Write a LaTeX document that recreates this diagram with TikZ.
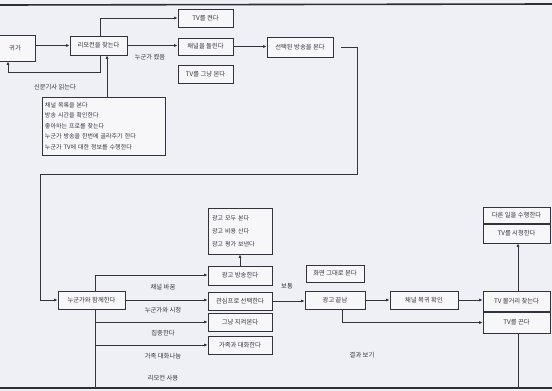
\documentclass[tikz,border=0pt]{standalone}
\usepackage{fontspec}
\newfontfamily\kr{Noto Sans CJK KR}
\usetikzlibrary{arrows.meta}
\definecolor{bg}{HTML}{EEF0F6}
\definecolor{ln}{HTML}{33333D}
\definecolor{bx}{HTML}{F7F7FA}
\begin{document}
\begin{tikzpicture}[x=1pt,y=-1pt,
  box/.style={draw=ln, line width=0.7pt, fill=bx, inner sep=0pt, font=\kr\fontsize{6.3}{7.5}\selectfont, text=ln},
  lab/.style={inner sep=0pt, font=\kr\fontsize{6.3}{7.5}\selectfont, text=ln},
  con/.style={draw=ln, line width=0.7pt, -{Latex[length=3.5pt,width=3pt]}},
  plain/.style={draw=ln, line width=0.7pt},
  edge/.style={draw=ln!90!black, line width=1.6pt}]
\fill[bg] (0,0) rectangle (552,391);
\useasboundingbox (0,0) rectangle (552,391);
% page edge lines
\coordinate (t0) at (0,5); \coordinate (t1) at (552,4);
\coordinate (u0) at (0,388); \coordinate (u1) at (552,388);
\draw[edge] (t0) -- (t1);
\draw[edge] (u0) -- (u1);
% bus lines in the lower part (drawn first)
\coordinate (b0) at (95,275);
\coordinate (b1) at (95,388);
\coordinate (b2) at (95,322);
\coordinate (b3) at (95,345);
\draw[plain] (b0) -- (b1);
% upper nodes
\node[box, minimum width=40pt, minimum height=26pt] (start) at (15,48) {귀가};
\node[box, minimum width=57pt, minimum height=19pt] (remote) at (98.5,45.5) {리모컨을 찾는다};
\node[box, minimum width=55pt, minimum height=18pt] (tvon) at (205.5,18) {TV를 켠다};
\node[box, minimum width=55pt, minimum height=17pt] (channel) at (205.5,46.5) {채널을 돌린다};
\node[box, minimum width=55pt, minimum height=18pt] (justtv) at (205.5,74) {TV를 그냥 본다};
\node[box, minimum width=66pt, minimum height=20pt] (selected) at (300,47) {선택된 방송을 본다};
\node[box, minimum width=123pt, minimum height=58pt, inner xsep=3pt, text width=117pt, align=left, font=\kr\fontsize{6}{10.5}\selectfont] (list) at (103.5,126) {채널 목록을 본다\\방송 시간을 확인한다\\좋아하는 프로를 찾는다\\누군가 방송을 한번에 골라주기 한다\\누군가 TV에 대한 정보를 수행한다};
\node[lab] (l1) at (150,57) {누군가 켰음};
\node[lab] (l2) at (55,87) {신문기사 읽는다};
% lower nodes
\node[box, minimum width=67pt, minimum height=18pt] (together) at (91.5,300) {누군가와 함께한다};
\node[box, minimum width=64pt, minimum height=19pt] (ad) at (240,275.5) {광고 방송한다};
\node[box, minimum width=64pt, minimum height=18pt] (interest) at (240,301) {관심프로 선택한다};
\node[box, minimum width=64pt, minimum height=18pt] (just) at (240,322) {그냥 지켜본다};
\node[box, minimum width=64pt, minimum height=18pt] (family) at (240,345) {가족과 대화한다};
\node[box, minimum width=64pt, minimum height=46pt, inner xsep=4pt, text width=56pt, align=left, font=\kr\fontsize{6}{13}\selectfont] (list2) at (240,231) {광고 모두 본다\\광고 비용 산다\\광고 평가 보낸다};
\node[box, minimum width=58pt, minimum height=17pt] (screen) at (335,273.5) {화면 그대로 본다};
\node[box, minimum width=60pt, minimum height=18pt] (adend) at (335,300) {광고 끝남};
\node[box, minimum width=68pt, minimum height=18pt] (chk) at (424,300) {채널 복귀 확인};
\node[box, minimum width=67pt, minimum height=20pt] (find) at (516.5,301) {TV 볼거리 찾는다};
\node[box, minimum width=67pt, minimum height=21pt] (off) at (516.5,322.5) {TV를 끈다};
\node[box, minimum width=67pt, minimum height=16pt] (other) at (516.5,215) {다른 일을 수행한다};
\node[box, minimum width=67pt, minimum height=19pt] (watch) at (516.5,233.5) {TV를 시청한다};
\node[lab] (n1) at (163,287) {채널 바꿈};
\node[lab] (n2) at (163,310) {누군가와 시청};
\node[lab] (n3) at (163,333) {집중한다};
\node[lab] (n4) at (163,356) {가족 대화나눔};
\node[lab] (n5) at (163,378) {리모컨 사용};
\node[lab] (n6) at (287,286) {보통};
\node[lab] (n7) at (362,355) {결과 보기};
% upper connectors
\draw[con] (start.east |- remote) -- (remote.west);
\draw[con] ([xshift=1.5pt]remote.north) |- (tvon.west);
\draw[con] (remote.east) -- (remote.east -| channel.west);
\coordinate (lc) at (8,72);
\draw[con] ([xshift=1.5pt]remote.south) |- (lc) -- (lc |- start.south);
\draw[con] ([xshift=3.5pt]list.north) -- ([xshift=3.5pt]list.north |- remote.south);
\draw[con] (channel.east) -- (channel.east -| selected.west);
\coordinate (c1) at (357,47);
\coordinate (c2) at (357,174);
\coordinate (c3) at (40,174);
\draw[con] ([xshift=8pt]selected.east) -- (c1) -- (c2) -- (c3) |- (together.west);
% lower connectors
\draw[con] (b0) -- (b0 -| ad.west);
\draw[con] (together.east) -- (together.east -| interest.west);
\draw[con] (b2) -- (just.west);
\draw[con] (b3) -- (family.west);
\draw[con] (ad.north) -- (list2.south);
\draw[con] (interest.east) -- (interest.east -| adend.west);
\draw[con] (adend.east) -- (chk.west);
\draw[con] (chk.east) -- (chk.east -| find.west);
\draw[con] ([xshift=7pt]adend.south) |- (off.west);
\draw[con] ([xshift=1.5pt]find.north) -- ([xshift=1.5pt]watch.south);
\coordinate (ob) at (518,388);
\draw[plain] ([xshift=1.5pt]off.south) -- (ob);
\end{tikzpicture}
\end{document}
